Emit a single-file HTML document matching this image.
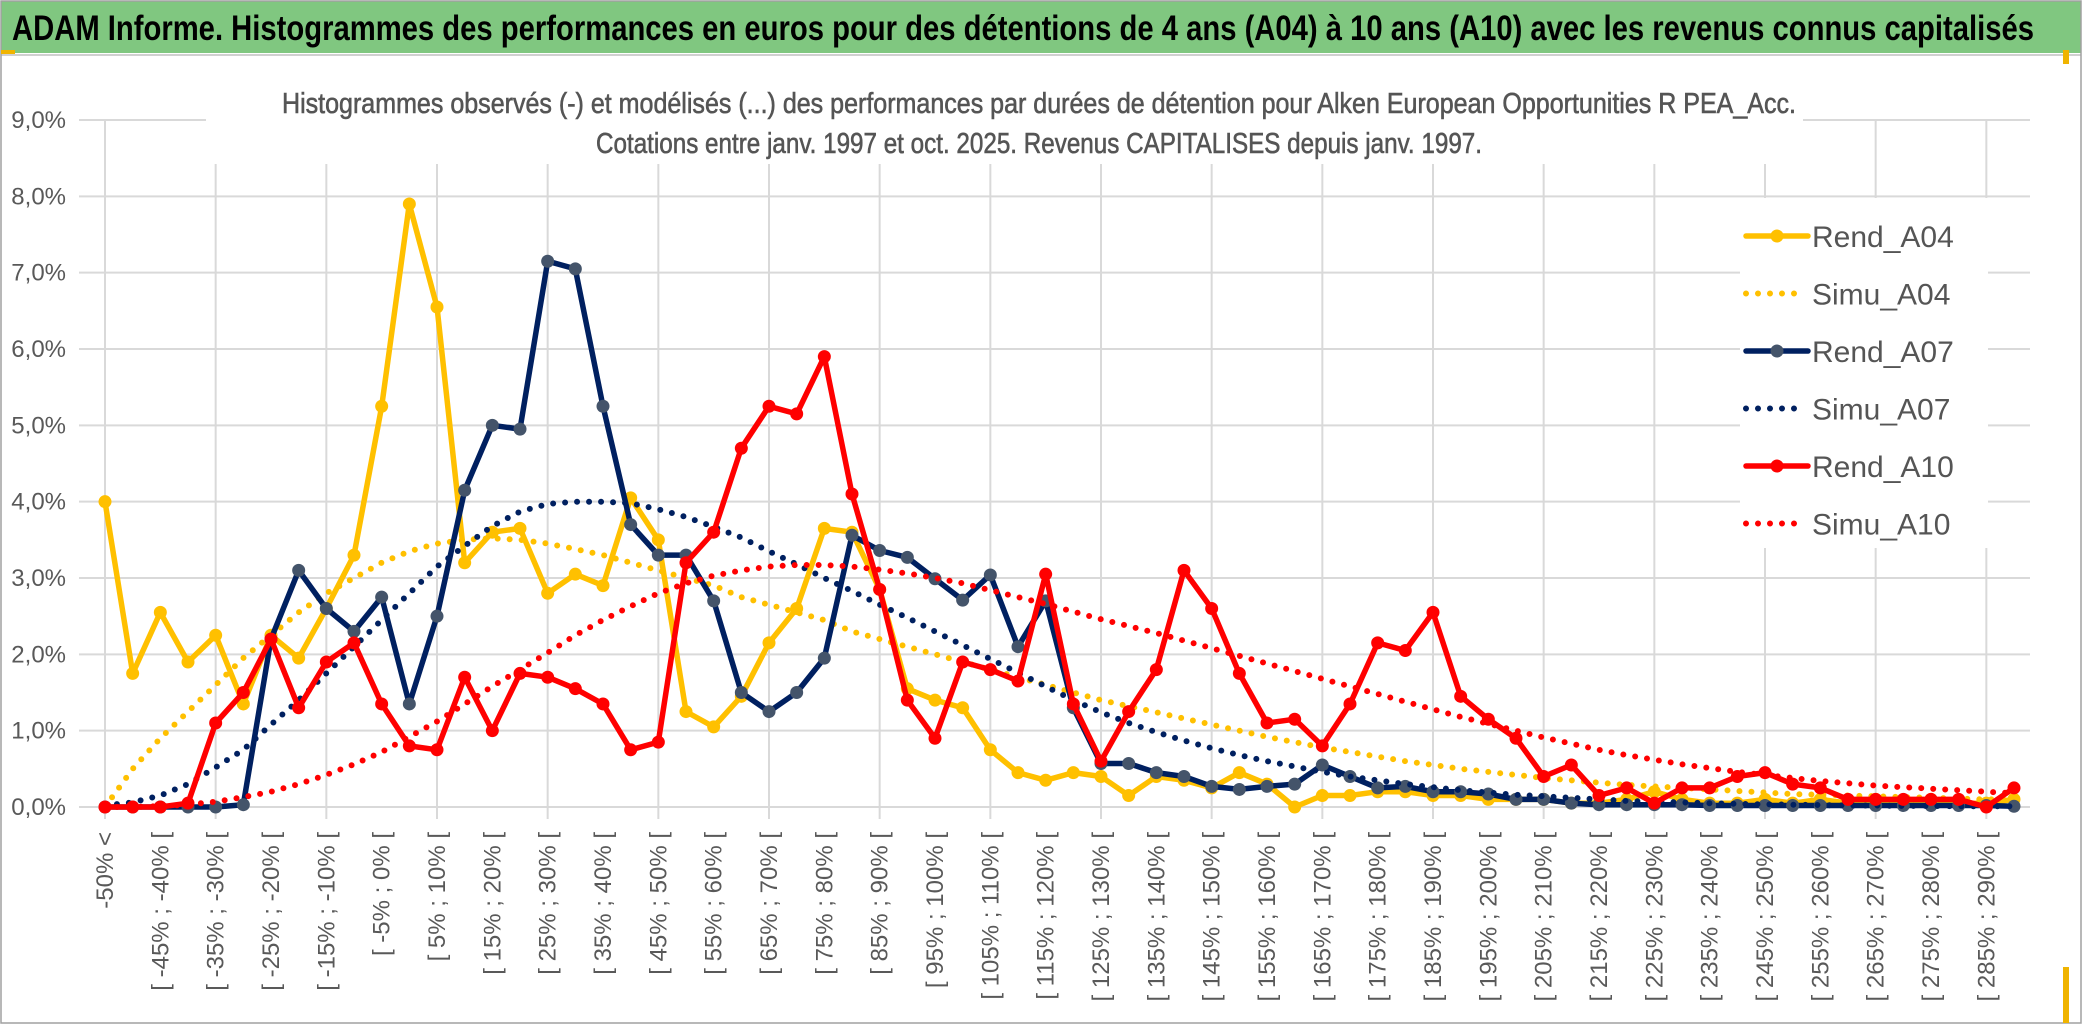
<!DOCTYPE html>
<html><head><meta charset="utf-8"><style>
html,body{margin:0;padding:0;background:#fff;}
svg{display:block;}
</style></head><body>
<svg id="chart" xmlns="http://www.w3.org/2000/svg" width="2086" height="1033" viewBox="0 0 2086 1033">
  <rect x="0" y="0" width="2086" height="1033" fill="#fff"/>
  <rect x="1" y="1" width="2080" height="52" fill="#80c780"/>
  <text x="12" y="40" font-family="Liberation Sans Narrow, Liberation Sans, sans-serif" font-weight="bold" font-size="35" fill="#000" textLength="2022" lengthAdjust="spacingAndGlyphs">ADAM Informe. Histogrammes des performances en euros pour des détentions de 4 ans (A04) à 10 ans (A10) avec les revenus connus capitalisés</text>
  <line x1="1" y1="55" x2="2081" y2="55" stroke="#d0d0d0" stroke-width="2"/>
  <rect x="1" y="1" width="2080" height="1022" fill="none" stroke="#a0a0a0" stroke-width="1.5"/>
  <rect x="2063" y="50" width="6" height="14" fill="#f0b400"/>
  <rect x="2063" y="967" width="6" height="56" fill="#f0b400"/>
  <rect x="1" y="50" width="14" height="4" fill="#f0b400"/>
  <g id="grid"></g>
  <rect x="206" y="60" width="1597" height="104" fill="#fff"/>
  <text x="282" y="113" font-family="Liberation Sans Narrow, Liberation Sans, sans-serif" font-size="29" fill="#555" stroke="#555" stroke-width="0.6" textLength="1514" lengthAdjust="spacingAndGlyphs">Histogrammes observés (-) et modélisés (...) des performances par durées de détention pour Alken European Opportunities R PEA_Acc.</text>
  <text x="596" y="153" font-family="Liberation Sans Narrow, Liberation Sans, sans-serif" font-size="29" fill="#555" stroke="#555" stroke-width="0.6" textLength="886" lengthAdjust="spacingAndGlyphs">Cotations entre janv. 1997 et oct. 2025. Revenus CAPITALISES depuis janv. 1997.</text>
  <g id="yaxis"></g>
  <g id="xaxis"></g>
  <g id="series"></g>
  <rect x="1740" y="198" width="248" height="350" fill="#fff"/>
  <g id="legend"></g>
</svg>
<script>
const categories = ["-50% <","[ -50% ; -45% [","[ -45% ; -40% [","[ -40% ; -35% [","[ -35% ; -30% [","[ -30% ; -25% [","[ -25% ; -20% [","[ -20% ; -15% [","[ -15% ; -10% [","[ -10% ; -5% [",
"[ -5% ; 0% [","[ 0% ; 5% [","[ 5% ; 10% [","[ 10% ; 15% [","[ 15% ; 20% [","[ 20% ; 25% [","[ 25% ; 30% [","[ 30% ; 35% [","[ 35% ; 40% [","[ 40% ; 45% [",
"[ 45% ; 50% [","[ 50% ; 55% [","[ 55% ; 60% [","[ 60% ; 65% [","[ 65% ; 70% [","[ 70% ; 75% [","[ 75% ; 80% [","[ 80% ; 85% [","[ 85% ; 90% [","[ 90% ; 95% [",
"[ 95% ; 100% [","[ 100% ; 105% [","[ 105% ; 110% [","[ 110% ; 115% [","[ 115% ; 120% [","[ 120% ; 125% [","[ 125% ; 130% [","[ 130% ; 135% [","[ 135% ; 140% [","[ 140% ; 145% [",
"[ 145% ; 150% [","[ 150% ; 155% [","[ 155% ; 160% [","[ 160% ; 165% [","[ 165% ; 170% [","[ 170% ; 175% [","[ 175% ; 180% [","[ 180% ; 185% [","[ 185% ; 190% [","[ 190% ; 195% [",
"[ 195% ; 200% [","[ 200% ; 205% [","[ 205% ; 210% [","[ 210% ; 215% [","[ 215% ; 220% [","[ 220% ; 225% [","[ 225% ; 230% [","[ 230% ; 235% [","[ 235% ; 240% [","[ 240% ; 245% [",
"[ 245% ; 250% [","[ 250% ; 255% [","[ 255% ; 260% [","[ 260% ; 265% [","[ 265% ; 270% [","[ 270% ; 275% [","[ 275% ; 280% [","[ 280% ; 285% [","[ 285% ; 290% [","[ 290% ; 295% ["];
const yTicks = [0,1,2,3,4,5,6,7,8,9];
const yTickLabels = ["0,0%","1,0%","2,0%","3,0%","4,0%","5,0%","6,0%","7,0%","8,0%","9,0%"];
const rendA04 = [4.0,1.75,2.55,1.9,2.25,1.35,2.25,1.95,2.6,3.3,
5.25,7.9,6.55,3.2,3.6,3.65,2.8,3.05,2.9,4.05,
3.5,1.25,1.05,1.45,2.15,2.6,3.65,3.6,2.85,1.55,
1.4,1.3,0.75,0.45,0.35,0.45,0.4,0.15,0.4,0.35,
0.25,0.45,0.3,0.0,0.15,0.15,0.2,0.2,0.15,0.15,
0.1,0.1,0.1,0.05,0.05,0.1,0.2,0.1,0.05,0.05,
0.1,0.05,0.1,0.05,0.1,0.05,0.1,0.05,0.05,0.1];
const simuA04 = [0,0.5,0.9,1.25,1.6,1.95,2.25,2.55,2.8,3.0,
3.2,3.35,3.45,3.5,3.52,3.5,3.45,3.38,3.3,3.2,
3.1,3.0,2.9,2.75,2.65,2.55,2.45,2.3,2.2,2.1,
2.0,1.9,1.8,1.7,1.6,1.5,1.4,1.32,1.24,1.16,
1.08,1.0,0.92,0.85,0.78,0.72,0.66,0.6,0.55,0.5,
0.46,0.42,0.38,0.35,0.32,0.29,0.27,0.25,0.23,0.21,
0.19,0.17,0.16,0.15,0.14,0.13,0.12,0.11,0.1,0.1];
const rendA07 = [0,0,0,0,0,0.03,2.2,3.1,2.6,2.3,
2.75,1.35,2.5,4.15,5.0,4.95,7.15,7.05,5.25,3.7,
3.3,3.3,2.7,1.5,1.25,1.5,1.95,3.56,3.36,3.27,
2.99,2.71,3.04,2.1,2.7,1.3,0.57,0.57,0.45,0.4,
0.27,0.23,0.27,0.3,0.55,0.4,0.25,0.27,0.2,0.2,
0.17,0.1,0.1,0.05,0.03,0.03,0.03,0.03,0.02,0.02,
0.02,0.02,0.02,0.02,0.02,0.02,0.02,0.02,0.02,0.01];
const simuA07 = [0.02,0.06,0.15,0.3,0.52,0.75,1.08,1.4,1.75,2.1,
2.45,2.8,3.15,3.42,3.68,3.87,3.97,4.0,4.0,3.98,
3.9,3.8,3.67,3.53,3.35,3.18,3.0,2.83,2.65,2.48,
2.3,2.12,1.94,1.76,1.58,1.4,1.24,1.1,0.98,0.87,
0.77,0.68,0.6,0.53,0.46,0.4,0.35,0.3,0.26,0.22,
0.19,0.16,0.14,0.12,0.1,0.08,0.07,0.06,0.05,0.04,
0.035,0.03,0.025,0.02,0.02,0.015,0.015,0.01,0.01,0.01];
const rendA10 = [0,0,0,0.05,1.1,1.5,2.2,1.3,1.9,2.15,
1.35,0.8,0.75,1.7,1.0,1.75,1.7,1.55,1.35,0.75,
0.85,3.2,3.6,4.7,5.25,5.15,5.9,4.1,2.85,1.4,
0.9,1.9,1.8,1.65,3.05,1.35,0.6,1.25,1.8,3.1,
2.6,1.75,1.1,1.15,0.8,1.35,2.15,2.05,2.55,1.45,
1.15,0.9,0.4,0.55,0.15,0.25,0.05,0.25,0.25,0.4,
0.45,0.3,0.25,0.1,0.1,0.1,0.1,0.1,0.0,0.25];
const simuA10 = [0,0,0.01,0.03,0.07,0.13,0.2,0.3,0.42,0.56,
0.72,0.92,1.12,1.35,1.58,1.8,2.02,2.25,2.45,2.63,
2.8,2.93,3.03,3.1,3.15,3.17,3.17,3.15,3.11,3.06,
3.0,2.93,2.84,2.75,2.66,2.56,2.46,2.37,2.28,2.18,
2.08,1.98,1.88,1.78,1.68,1.58,1.48,1.38,1.28,1.18,
1.09,1.0,0.91,0.83,0.75,0.68,0.62,0.56,0.51,0.46,
0.42,0.38,0.34,0.31,0.28,0.26,0.24,0.22,0.2,0.18];
const seriesNames = ["Rend_A04","Simu_A04","Rend_A07","Simu_A07","Rend_A10","Simu_A10"];

const NS = "http://www.w3.org/2000/svg";
const X0 = 105, X1 = 2014, Y0 = 807, YMAXPX = 120, YMAX = 9;
function xScale(i){ return X0 + (X1 - X0) * i / (categories.length - 1); }
function yScale(v){ return Y0 - (Y0 - YMAXPX) * v / YMAX; }
function mk(tag, attrs, parent){ const e = document.createElementNS(NS, tag); for (const k in attrs) e.setAttribute(k, attrs[k]); parent.appendChild(e); return e; }

const grid = document.getElementById('grid');
yTicks.forEach(function(t){
  const l = mk('line', {x1: 79, x2: 2030, y1: yScale(t), y2: yScale(t), stroke: '#d9d9d9', 'stroke-width': 2}, grid);
  
  
});
for (let i = 0; i < categories.length; i += 4) {
  const l = mk('line', {x1: xScale(i), x2: xScale(i), y1: YMAXPX, y2: Y0 + 12, stroke: '#d9d9d9', 'stroke-width': 2}, grid);
  
  
}

const yaxis = document.getElementById('yaxis');
yTicks.forEach(function(t, k){
  const tx = mk('text', {x: 66, y: yScale(t) + 8, 'text-anchor': 'end', 'font-family': 'Liberation Sans Narrow, Liberation Sans, sans-serif', 'font-size': 24, fill: '#595959'}, yaxis);
  
  
  tx.textContent = yTickLabels[k];
});

const xaxis = document.getElementById('xaxis');
for (let i = 0; i < categories.length; i += 2) {
  const x = xScale(i) + 8;
  const tx = mk('text', {x: 0, y: 0, transform: 'translate(' + x + ',832) rotate(-90)', 'text-anchor': 'end', 'font-family': 'Liberation Sans, sans-serif', 'font-size': 24, fill: '#595959'}, xaxis);
  
  
  tx.textContent = categories[i];
}

const series = document.getElementById('series');
function pathFor(vals){ return vals.map(function(v, i){ return (i ? 'L' : 'M') + xScale(i).toFixed(1) + ' ' + yScale(v).toFixed(1); }).join(' '); }
function drawRend(vals, color, markerColor, name){
  const g = mk('g', {}, series);
  
  
  const p = mk('path', {d: pathFor(vals), fill: 'none', stroke: color, 'stroke-width': 5.5, 'stroke-linejoin': 'round', 'stroke-linecap': 'round'}, g);
  
  
  vals.forEach(function(v, i){
    const c = mk('circle', {cx: xScale(i), cy: yScale(v), r: 6.5, fill: markerColor}, g);
    
    
  });
}
function drawSimu(vals, color, name){
  const p = mk('path', {d: pathFor(vals), fill: 'none', stroke: color, 'stroke-width': 6, 'stroke-linecap': 'round', 'stroke-dasharray': '0 12'}, series);
  
  
}
drawRend(rendA04, '#ffc000', '#ffc000', 'rend-a04');
drawSimu(simuA04, '#ffc000', 'simu-a04');
drawRend(rendA07, '#002060', '#44546a', 'rend-a07');
drawSimu(simuA07, '#002060', 'simu-a07');
drawRend(rendA10, '#ff0000', '#ff0000', 'rend-a10');
drawSimu(simuA10, '#ff0000', 'simu-a10');

const legend = document.getElementById('legend');
const legColors = ['#ffc000','#ffc000','#002060','#002060','#ff0000','#ff0000'];
const legMarkers = ['#ffc000',null,'#44546a',null,'#ff0000',null];
seriesNames.forEach(function(n, k){
  const y = 236 + k * 57.5;
  const g = mk('g', {}, legend);
  
  
  if (legMarkers[k]) {
    mk('line', {x1: 1746, x2: 1808, y1: y, y2: y, stroke: legColors[k], 'stroke-width': 5.5, 'stroke-linecap': 'round'}, g);
    mk('circle', {cx: 1777, cy: y, r: 6.5, fill: legMarkers[k]}, g);
  } else {
    mk('line', {x1: 1746, x2: 1800, y1: y, y2: y, stroke: legColors[k], 'stroke-width': 6, 'stroke-linecap': 'round', 'stroke-dasharray': '0 12'}, g);
  }
  const t = mk('text', {x: 1812, y: y + 11, 'font-family': 'Liberation Sans Narrow, Liberation Sans, sans-serif', 'font-size': 30, fill: '#555'}, g);
  t.textContent = n;
});
</script>
</body></html>
